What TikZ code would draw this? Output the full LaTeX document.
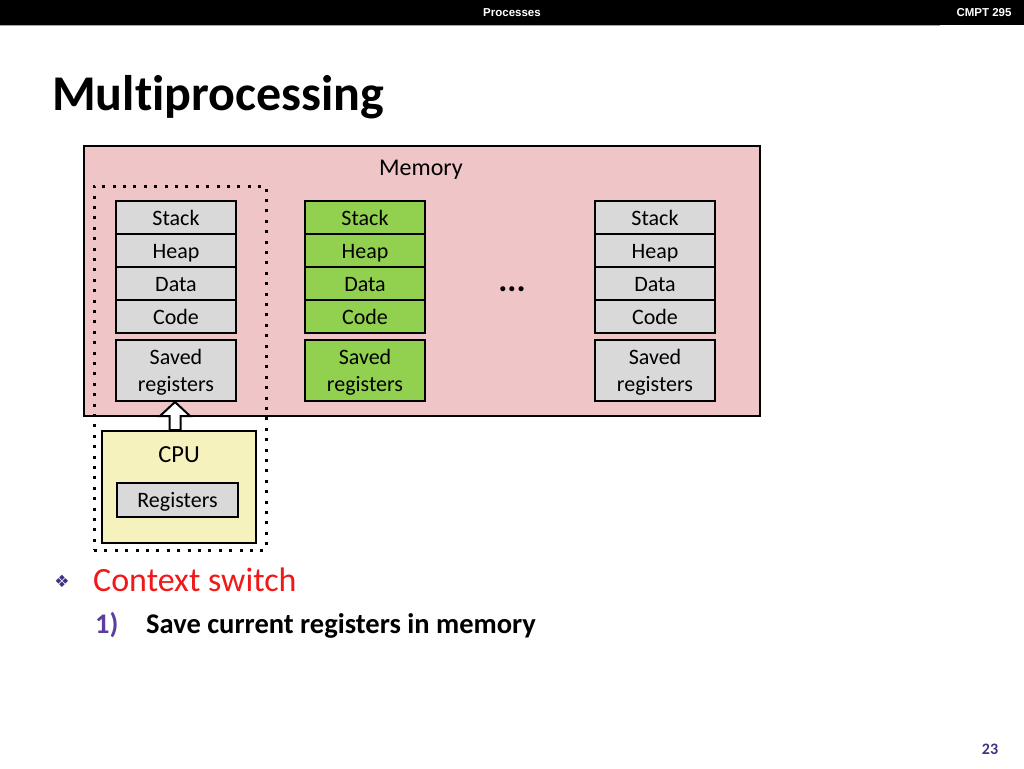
\documentclass[tikz,border=0pt]{standalone}
\usepackage{fontspec}
\setmainfont[Ligatures=NoCommon]{Carlito}
\newfontfamily\hdrfont{Liberation Sans}
\newfontfamily\symfont{DejaVu Sans}
\usepackage{xcolor}
\usetikzlibrary{calc}
\definecolor{MPPink}{HTML}{EFC5C7}
\definecolor{MPGray}{HTML}{D9D9D9}
\definecolor{MPGreen}{HTML}{92D050}
\definecolor{MPYellow}{HTML}{F6F2BE}
\definecolor{MPRed}{HTML}{F01818}
\definecolor{MPPurple}{HTML}{5B3F9C}
\definecolor{MPNavy}{HTML}{3F3282}

\begin{document}
\begin{tikzpicture}[
  x=1pt,
  y=-1pt,
  seg/.style={
    draw=black,
    line width=2pt,
    minimum width=120pt,
    minimum height=33pt,
    inner sep=0pt,
    text height=16pt,
    text depth=1pt,
    font=\fontsize{22}{26}\selectfont
  },
  savedbox/.style={
    seg,
    minimum height=61pt,
    text height=,
    text depth=,
    align=center,
    font=\fontsize{22}{27}\selectfont
  },
  hollow/.style={draw=black, line width=2pt, fill=white, line join=miter},
]
\useasboundingbox (0,0) rectangle (1024,768);

% header bar
\fill[black] (0,0) rectangle (1024,25);
\draw[gray!70, line width=1.5pt] (0,25.5) -- (940,25.5);
\node[text=white, font=\hdrfont\bfseries\fontsize{11.5}{13}\selectfont] (hdr-topic) at (512,12.5) {Processes};
\node[text=white, font=\hdrfont\bfseries\fontsize{11.5}{13}\selectfont] (hdr-course) at (984,12.5) {CMPT 295};

\node[anchor=base west, inner sep=0pt, font=\bfseries\fontsize{50}{56}\selectfont] (title) at (52,110) {Multiprocessing};

% memory
\node[draw=black, line width=2pt, fill=MPPink, minimum width=676pt, minimum height=270pt] (memory) at (422,281) {};
\node[anchor=base, inner sep=0pt, font=\fontsize{24}{28}\selectfont] (memory-label) at (421,175) {Memory};

\node[seg, fill=MPGray] (p1-stack) at (176,217.5) {Stack};
\node[seg, fill=MPGray] (p1-heap) at (176,250.5) {Heap};
\node[seg, fill=MPGray] (p1-data) at (176,283.5) {Data};
\node[seg, fill=MPGray] (p1-code) at (176,316.5) {Code};
\node[savedbox, fill=MPGray] (p1-saved) at (176,370.5) {\strut Saved\\registers};

\node[seg, fill=MPGreen] (p2-stack) at (365,217.5) {Stack};
\node[seg, fill=MPGreen] (p2-heap) at (365,250.5) {Heap};
\node[seg, fill=MPGreen] (p2-data) at (365,283.5) {Data};
\node[seg, fill=MPGreen] (p2-code) at (365,316.5) {Code};
\node[savedbox, fill=MPGreen] (p2-saved) at (365,370.5) {\strut Saved\\registers};

\node[anchor=base, inner sep=0pt, font=\bfseries\fontsize{34}{36}\selectfont] (dots) at (512,291) {...};

\node[seg, fill=MPGray] (p3-stack) at (655,217.5) {Stack};
\node[seg, fill=MPGray] (p3-heap) at (655,250.5) {Heap};
\node[seg, fill=MPGray] (p3-data) at (655,283.5) {Data};
\node[seg, fill=MPGray] (p3-code) at (655,316.5) {Code};
\node[savedbox, fill=MPGray] (p3-saved) at (655,370.5) {\strut Saved\\registers};

% cpu
\node[draw=black, line width=2pt, fill=MPYellow, minimum width=154pt, minimum height=112pt] (cpu) at (179,487) {};
\node[anchor=base, inner sep=0pt, font=\fontsize{24.5}{28}\selectfont] (cpu-title) at (179,462) {CPU};
\node[seg, fill=MPGray, minimum width=121pt, minimum height=34pt] (cpu-regs) at (177.5,500) {Registers};

% running process
\node[draw=black, line width=3pt, dash pattern=on 3pt off 7.4pt, minimum width=172pt, minimum height=364pt] (current) at (180,368) {};

% save arrow
\coordinate (tip) at (175,0 |- p1-saved.south);
\coordinate (tail) at (tip |- cpu.north);
\draw[hollow] ($(tail)+(-5.5,0)$) -- ($(tip)+(-5.5,14)$) -- ($(tip)+(-15,14)$) -- (tip)
  -- ($(tip)+(15,14)$) -- ($(tip)+(5.5,14)$) -- ($(tail)+(5.5,0)$) -- cycle;

% text
\node[text=MPNavy, font=\symfont\fontsize{17}{19}\selectfont] (bullet) at (62,581) {❖};
\node[anchor=base west, inner sep=0pt, text=MPRed, font=\fontsize{34}{38}\selectfont] (ctx-switch) at (93,591) {Context switch};
\node[anchor=base west, inner sep=0pt, text=MPPurple, font=\bfseries\fontsize{28.5}{32}\selectfont] (step-num) at (95,633) {1)};
\node[anchor=base west, inner sep=0pt, font=\bfseries\fontsize{28.5}{32}\selectfont] (step-text) at (146,633) {Save current registers in memory};

\node[anchor=base, inner sep=0pt, text=MPNavy, font=\bfseries\fontsize{16}{18}\selectfont] (page) at (990,754) {23};
\end{tikzpicture}
\end{document}
